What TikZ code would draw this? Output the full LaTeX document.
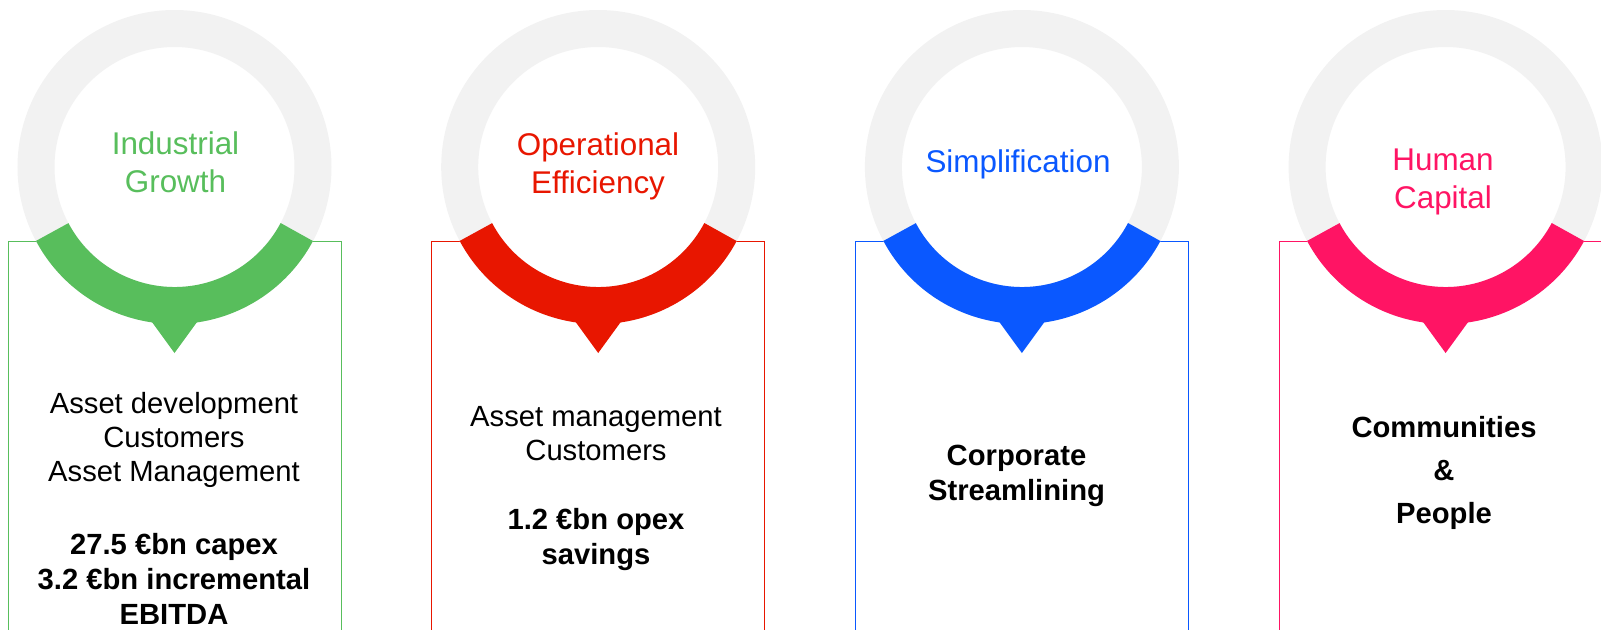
\documentclass[tikz,border=0pt]{standalone}
\usepackage{fontspec}
\setmainfont{Liberation Sans}

\definecolor{growgreen}{RGB}{88,190,92}
\definecolor{effred}{RGB}{232,22,0}
\definecolor{simpblue}{RGB}{10,88,255}
\definecolor{humpink}{RGB}{255,20,100}
\definecolor{ringgray}{RGB}{242,242,242}

\begin{document}
\begin{tikzpicture}[x=0.5pt, y=0.5pt,
  frame/.style={line width=0.5pt},
  ring/.style={draw=ringgray, line width=18.5pt},
  band/.style={line width=18.5pt},
  title/.style={font=\fontsize{15.7}{19}\selectfont, align=center, anchor=base, inner sep=0pt},
  body/.style={font=\fontsize{14.6}{17}\selectfont, align=center, anchor=base, inner sep=0pt},
  fig/.style={body, font=\fontsize{14.6}{17.3}\selectfont\bfseries}]
\useasboundingbox (0,0) rectangle (1601,629);
\begin{scope}
\clip (0,0) rectangle (1601,629);
% one ring and open frame per pillar
\foreach \cx/\col [count=\i] in {174.5/growgreen, 598.2/effred, 1021.9/simpblue, 1445.6/humpink} {
  \draw[frame, \col] (\cx-166.5,-5) -- (\cx-166.5,388) -- (\cx+166.5,388) -- (\cx+166.5,-5);
  \coordinate (c\i) at (\cx,462);
  \fill[white] (c\i) circle[radius=150];
  \draw[ring] (c\i) circle[radius=138.5];
  \draw[band, \col] (c\i) ++(208:138.5) arc[start angle=208, end angle=332, radius=138.5];
  \fill[\col] (\cx-24,309) -- (\cx+24,309) -- (\cx,276) -- cycle;
}
\end{scope}
% titles (base = last line)
\node[title, text=growgreen] (t1) at (175.5,437) {Industrial\\Growth};
\node[title, text=effred] (t2) at (598,436) {Operational\\Efficiency};
\node[title, text=simpblue] (t3) at (1018,456.5) {Simplification};
\node[title, text=humpink] (t4) at (1443,420.4) {Human\\Capital};
% levers and targets
\node[body] (lev1) at (174,148) {Asset development\\Customers\\Asset Management};
\node[fig] (tar1) at (174,5) {27.5 €bn capex\\3.2 €bn incremental\\EBITDA};
\node[body] (lev2) at (596,169) {Asset management\\Customers};
\node[fig] (tar2) at (596,65) {1.2 €bn opex\\savings};
\node[fig] (tar3) at (1016.5,129) {Corporate\\Streamlining};
\node[fig, font=\fontsize{14.6}{21.5}\selectfont\bfseries] (tar4) at (1444,105.5) {Communities\\\&\\People};
\end{tikzpicture}
\end{document}
